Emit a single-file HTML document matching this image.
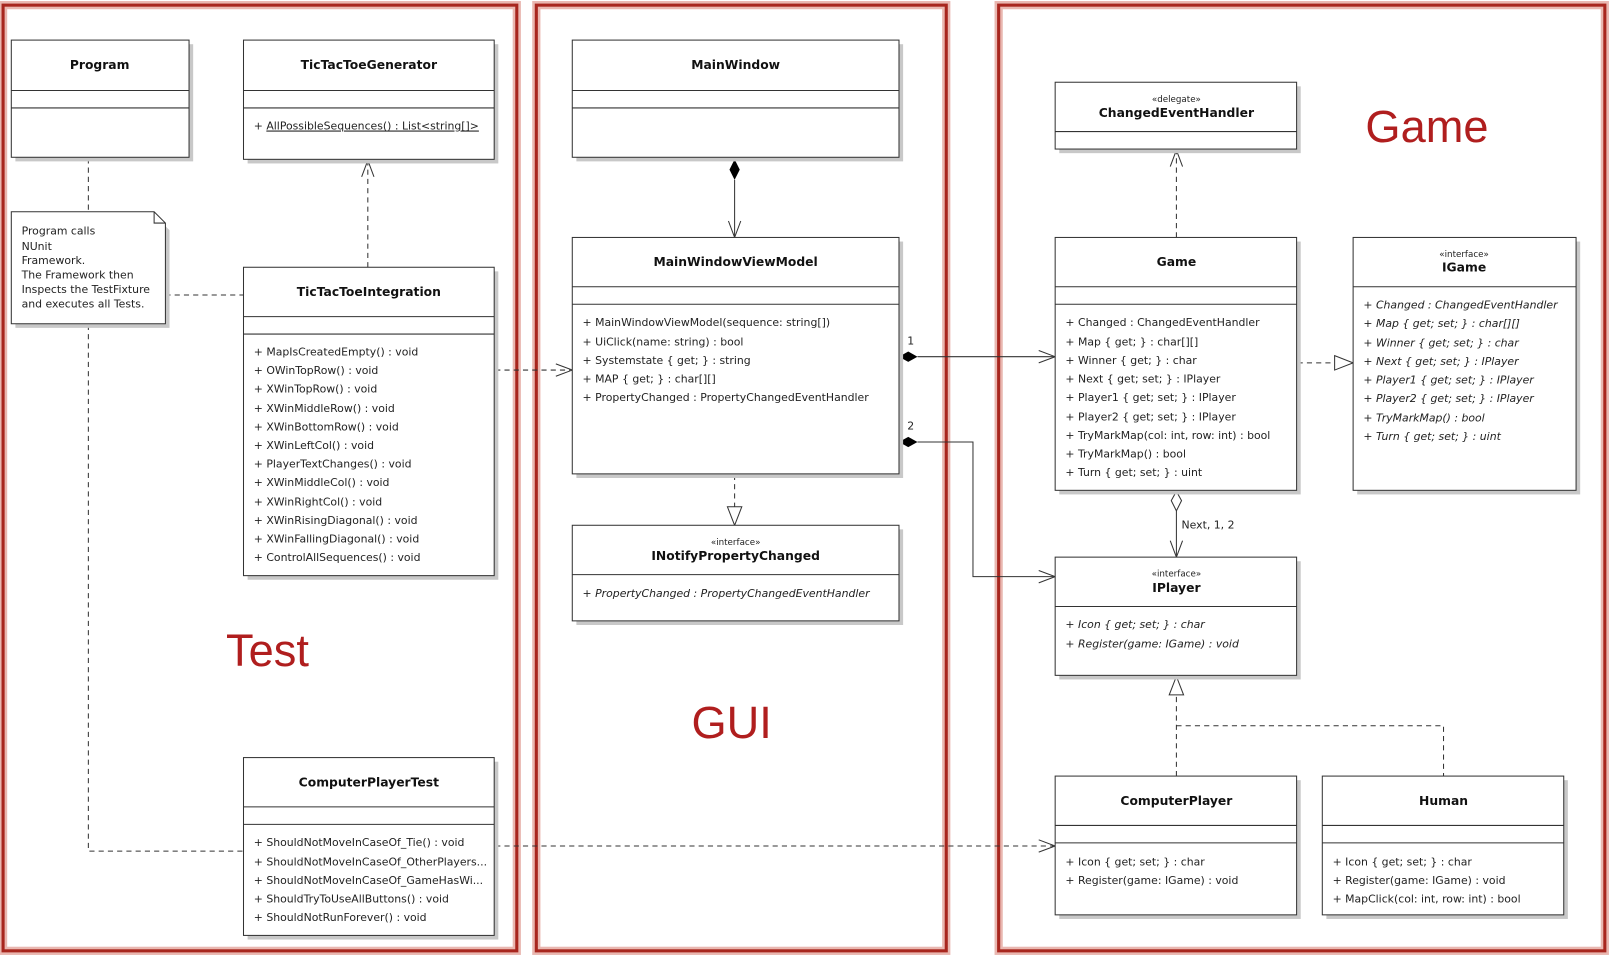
<!DOCTYPE html>
<html><head><meta charset="utf-8"><style>
html,body{margin:0;padding:0;background:#fff;}
svg{display:block;}
text{font-family:"DejaVu Sans","Liberation Sans",sans-serif;fill:#222;}
.m{font-size:10.6px;}
.i{font-size:10.6px;font-style:italic;}
.t{font-size:12px;font-weight:bold;text-anchor:middle;fill:#111;}
.s{font-size:8.5px;text-anchor:middle;}
.big{font-family:"Liberation Sans",sans-serif;fill:#b01e1e;font-size:44px;}
.box{fill:#fff;stroke:#333;stroke-width:1;}
.sh{fill:#c8c8c8;}
.ln{stroke:#333;stroke-width:1;fill:none;}
.d{stroke:#333;stroke-width:1;fill:none;stroke-dasharray:5,4;}
</style></head><body>
<svg width="1611" height="957" viewBox="0 0 1568 931" preserveAspectRatio="none" xmlns="http://www.w3.org/2000/svg">
<rect width="1568" height="931" fill="#fff"/>
<!-- panels -->
<g fill="none">
<rect x="3" y="5" width="500" height="920" stroke="#e9b7b0" stroke-width="8"/>
<rect x="3" y="5" width="500" height="920" stroke="#a8261e" stroke-width="3"/>
<rect x="522" y="5" width="399" height="920" stroke="#e9b7b0" stroke-width="8"/>
<rect x="522" y="5" width="399" height="920" stroke="#a8261e" stroke-width="3"/>
<rect x="972" y="5" width="590" height="920" stroke="#e9b7b0" stroke-width="8"/>
<rect x="972" y="5" width="590" height="920" stroke="#a8261e" stroke-width="3"/>
</g>
<text class="big" x="220" y="648">Test</text>
<text class="big" x="673" y="718">GUI</text>
<text class="big" x="1329" y="138">Game</text>

<!-- connectors -->
<path class="d" d="M86 154 V206 M86 316 V828 H237"/>
<path class="d" d="M161 287 H237"/>
<path class="d" d="M358 260 V157"/>
<path class="ln" d="M352 172 L358 156 L364 172"/>
<path class="d" d="M482 360 H555"/>
<path class="ln" d="M541 354 L557 360 L541 366"/>
<path class="ln" d="M715 175 V230"/>
<path d="M715 155 L720 165 L715 175 L710 165 Z" fill="#000"/>
<path class="ln" d="M709 215 L715 231 L721 215"/>
<path class="d" d="M715 462 V493"/>
<path d="M708 493 L722 493 L715 511 Z" fill="#fff" stroke="#333"/>
<path class="ln" d="M893 347 H1027"/>
<path d="M875 347 L884 342 L893 347 L884 352 Z" fill="#000"/>
<path class="ln" d="M1011 341 L1027 347 L1011 353"/>
<text class="m" x="883" y="335">1</text>
<path class="ln" d="M893 430 H947 V561 H1027"/>
<path d="M875 430 L884 425 L893 430 L884 435 Z" fill="#000"/>
<path class="ln" d="M1011 555 L1027 561 L1011 567"/>
<text class="m" x="883" y="418">2</text>
<path class="d" d="M1145 231 V147"/>
<path class="ln" d="M1139 162 L1145 146 L1151 162"/>
<path class="d" d="M1263 353 H1299"/>
<path d="M1299 346 L1317 353 L1299 360 Z" fill="#fff" stroke="#333"/>
<path class="ln" d="M1145 497 V541"/>
<path d="M1145 478 L1150 487 L1145 497 L1140 487 Z" fill="#fff" stroke="#333"/>
<path class="ln" d="M1139 526 L1145 542 L1151 526"/>
<text class="m" x="1150" y="514">Next, 1, 2</text>
<path class="d" d="M1145 755 V676 M1145 706 H1405 V755"/>
<path d="M1138 676 L1152 676 L1145 658 Z" fill="#fff" stroke="#333"/>
<path class="d" d="M482 823 H1025"/>
<path class="ln" d="M1011 817 L1027 823 L1011 829"/>

<!-- Program -->
<rect class="sh" x="15" y="43" width="173" height="114"/>
<rect class="box" x="11" y="39" width="173" height="114"/>
<path class="ln" d="M11 88 H184 M11 105 H184"/>
<text class="t" x="97" y="67">Program</text>

<!-- Note -->
<path d="M15 210 H151 L165 224 V319 H15 Z" fill="#c8c8c8"/>
<path d="M11 206 H150 L161 217 V315 H11 Z" fill="#fff" stroke="#333"/>
<path class="ln" d="M150 206 V217 H161"/>
<text class="m" x="21" y="228">Program calls</text>
<text class="m" x="21" y="243">NUnit</text>
<text class="m" x="21" y="257">Framework.</text>
<text class="m" x="21" y="271">The Framework then</text>
<text class="m" x="21" y="285">Inspects the TestFixture</text>
<text class="m" x="21" y="299">and executes all Tests.</text>

<!-- TicTacToeGenerator -->
<rect class="sh" x="241" y="43" width="244" height="116"/>
<rect class="box" x="237" y="39" width="244" height="116"/>
<path class="ln" d="M237 88 H481 M237 105 H481"/>
<text class="t" x="359" y="67">TicTacToeGenerator</text>
<text class="m" x="247" y="126">+ <tspan text-decoration="underline">AllPossibleSequences() : List&lt;string[]&gt;</tspan></text>

<!-- TicTacToeIntegration -->
<rect class="sh" x="241" y="264" width="244" height="300"/>
<rect class="box" x="237" y="260" width="244" height="300"/>
<path class="ln" d="M237 308 H481 M237 325 H481"/>
<text class="t" x="359" y="288">TicTacToeIntegration</text>
<g class="m">
<text x="247" y="346">+ MapIsCreatedEmpty() : void</text>
<text x="247" y="364">+ OWinTopRow() : void</text>
<text x="247" y="382">+ XWinTopRow() : void</text>
<text x="247" y="401">+ XWinMiddleRow() : void</text>
<text x="247" y="419">+ XWinBottomRow() : void</text>
<text x="247" y="437">+ XWinLeftCol() : void</text>
<text x="247" y="455">+ PlayerTextChanges() : void</text>
<text x="247" y="473">+ XWinMiddleCol() : void</text>
<text x="247" y="492">+ XWinRightCol() : void</text>
<text x="247" y="510">+ XWinRisingDiagonal() : void</text>
<text x="247" y="528">+ XWinFallingDiagonal() : void</text>
<text x="247" y="546">+ ControlAllSequences() : void</text>
</g>

<!-- ComputerPlayerTest -->
<rect class="sh" x="241" y="741" width="244" height="173"/>
<rect class="box" x="237" y="737" width="244" height="173"/>
<path class="ln" d="M237 785 H481 M237 802 H481"/>
<text class="t" x="359" y="765">ComputerPlayerTest</text>
<g class="m">
<text x="247" y="823">+ ShouldNotMoveInCaseOf_Tie() : void</text>
<text x="247" y="842">+ ShouldNotMoveInCaseOf_OtherPlayers...</text>
<text x="247" y="860">+ ShouldNotMoveInCaseOf_GameHasWi...</text>
<text x="247" y="878">+ ShouldTryToUseAllButtons() : void</text>
<text x="247" y="896">+ ShouldNotRunForever() : void</text>
</g>

<!-- MainWindow -->
<rect class="sh" x="561" y="43" width="318" height="114"/>
<rect class="box" x="557" y="39" width="318" height="114"/>
<path class="ln" d="M557 88 H875 M557 105 H875"/>
<text class="t" x="716" y="67">MainWindow</text>

<!-- MainWindowViewModel -->
<rect class="sh" x="561" y="235" width="318" height="230"/>
<rect class="box" x="557" y="231" width="318" height="230"/>
<path class="ln" d="M557 279 H875 M557 296 H875"/>
<text class="t" x="716" y="259">MainWindowViewModel</text>
<g class="m">
<text x="567" y="317">+ MainWindowViewModel(sequence: string[])</text>
<text x="567" y="336">+ UiClick(name: string) : bool</text>
<text x="567" y="354">+ Systemstate { get; } : string</text>
<text x="567" y="372">+ MAP { get; } : char[][]</text>
<text x="567" y="390">+ PropertyChanged : PropertyChangedEventHandler</text>
</g>

<!-- INotifyPropertyChanged -->
<rect class="sh" x="561" y="515" width="318" height="93"/>
<rect class="box" x="557" y="511" width="318" height="93"/>
<path class="ln" d="M557 559 H875"/>
<text class="s" x="716" y="530">«interface»</text>
<text class="t" x="716" y="545">INotifyPropertyChanged</text>
<text class="i" x="567" y="581">+ PropertyChanged : PropertyChangedEventHandler</text>

<!-- ChangedEventHandler -->
<rect class="sh" x="1031" y="84" width="235" height="65"/>
<rect class="box" x="1027" y="80" width="235" height="65"/>
<path class="ln" d="M1027 128 H1262"/>
<text class="s" x="1145" y="99">«delegate»</text>
<text class="t" x="1145" y="114">ChangedEventHandler</text>

<!-- Game -->
<rect class="sh" x="1031" y="235" width="235" height="246"/>
<rect class="box" x="1027" y="231" width="235" height="246"/>
<path class="ln" d="M1027 279 H1262 M1027 296 H1262"/>
<text class="t" x="1145" y="259">Game</text>
<g class="m">
<text x="1037" y="317">+ Changed : ChangedEventHandler</text>
<text x="1037" y="336">+ Map { get; } : char[][]</text>
<text x="1037" y="354">+ Winner { get; } : char</text>
<text x="1037" y="372">+ Next { get; set; } : IPlayer</text>
<text x="1037" y="390">+ Player1 { get; set; } : IPlayer</text>
<text x="1037" y="409">+ Player2 { get; set; } : IPlayer</text>
<text x="1037" y="427">+ TryMarkMap(col: int, row: int) : bool</text>
<text x="1037" y="445">+ TryMarkMap() : bool</text>
<text x="1037" y="463">+ Turn { get; set; } : uint</text>
</g>

<!-- IGame -->
<rect class="sh" x="1321" y="235" width="217" height="246"/>
<rect class="box" x="1317" y="231" width="217" height="246"/>
<path class="ln" d="M1317 279 H1534"/>
<text class="s" x="1425" y="250">«interface»</text>
<text class="t" x="1425" y="264">IGame</text>
<g class="i">
<text x="1327" y="300">+ Changed : ChangedEventHandler</text>
<text x="1327" y="318">+ Map { get; set; } : char[][]</text>
<text x="1327" y="337">+ Winner { get; set; } : char</text>
<text x="1327" y="355">+ Next { get; set; } : IPlayer</text>
<text x="1327" y="373">+ Player1 { get; set; } : IPlayer</text>
<text x="1327" y="391">+ Player2 { get; set; } : IPlayer</text>
<text x="1327" y="410">+ TryMarkMap() : bool</text>
<text x="1327" y="428">+ Turn { get; set; } : uint</text>
</g>

<!-- IPlayer -->
<rect class="sh" x="1031" y="546" width="235" height="115"/>
<rect class="box" x="1027" y="542" width="235" height="115"/>
<path class="ln" d="M1027 590 H1262"/>
<text class="s" x="1145" y="561">«interface»</text>
<text class="t" x="1145" y="576">IPlayer</text>
<text class="i" x="1037" y="611">+ Icon { get; set; } : char</text>
<text class="i" x="1037" y="630">+ Register(game: IGame) : void</text>

<!-- ComputerPlayer -->
<rect class="sh" x="1031" y="759" width="235" height="135"/>
<rect class="box" x="1027" y="755" width="235" height="135"/>
<path class="ln" d="M1027 803 H1262 M1027 820 H1262"/>
<text class="t" x="1145" y="783">ComputerPlayer</text>
<text class="m" x="1037" y="842">+ Icon { get; set; } : char</text>
<text class="m" x="1037" y="860">+ Register(game: IGame) : void</text>

<!-- Human -->
<rect class="sh" x="1291" y="759" width="235" height="135"/>
<rect class="box" x="1287" y="755" width="235" height="135"/>
<path class="ln" d="M1287 803 H1522 M1287 820 H1522"/>
<text class="t" x="1405" y="783">Human</text>
<text class="m" x="1297" y="842">+ Icon { get; set; } : char</text>
<text class="m" x="1297" y="860">+ Register(game: IGame) : void</text>
<text class="m" x="1297" y="878">+ MapClick(col: int, row: int) : bool</text>
</svg>
</body></html>
